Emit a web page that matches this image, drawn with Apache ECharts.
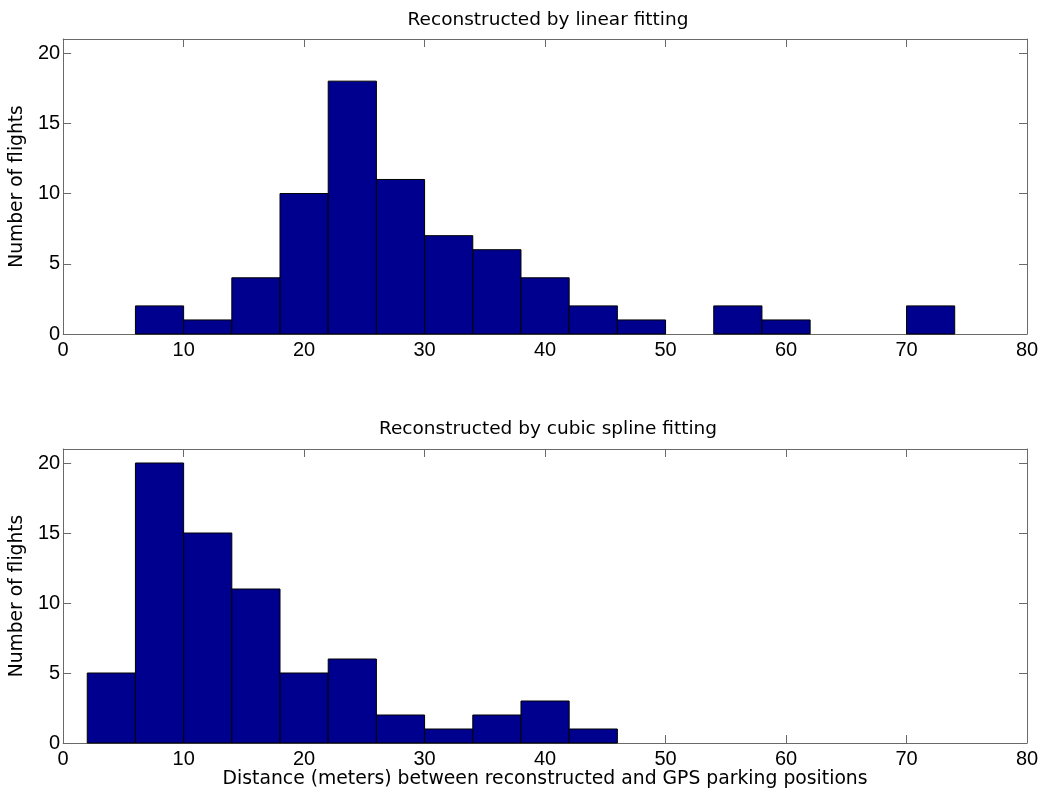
<!DOCTYPE html>
<html>
<head>
<meta charset="utf-8">
<script src="https://cdn.jsdelivr.net/npm/echarts@6/dist/echarts.min.js"></script>
<style>html,body{margin:0;padding:0;background:#fff;}#c{width:1044px;height:794px;}</style>
</head>
<body>
<div id="c"></div>
<script>
const binWidth = 4;
const topTitle = 'Reconstructed by linear fitting';
const bottomTitle = 'Reconstructed by cubic spline fitting';
const yName = 'Number of flights';
const xName = 'Distance (meters) between reconstructed and GPS parking positions';
const topBinStarts = [6, 10, 14, 18, 22, 26, 30, 34, 38, 42, 46, 54, 58, 70];
const topCounts    = [2, 1, 4, 10, 18, 11, 7, 6, 4, 2, 1, 2, 1, 2];
const bottomBinStarts = [2, 6, 10, 14, 18, 22, 26, 30, 34, 38, 42];
const bottomCounts    = [5, 20, 15, 11, 5, 6, 2, 1, 2, 3, 1];
const xTicks = [0, 10, 20, 30, 40, 50, 60, 70, 80];
const yTicks = [0, 5, 10, 15, 20];

const font = 'Liberation Sans, Arial, Helvetica, sans-serif';
const wideFont = 'DejaVu Sans, Verdana, sans-serif';
const axisColor = '#6a6a6a';

function toData(starts, counts) {
  return starts.map((s, i) => [s, s + binWidth, counts[i]]);
}

function renderItem(params, api) {
  const p0 = api.coord([api.value(0), 0]);
  const p1 = api.coord([api.value(1), api.value(2)]);
  return {
    type: 'rect',
    shape: { x: p0[0], y: p1[1], width: p1[0] - p0[0], height: p0[1] - p1[1] },
    style: { fill: '#00008f', stroke: '#000000', lineWidth: 1 }
  };
}

const grids = [
  { left: 62, top: 39, width: 965, height: 295 },
  { left: 62, top: 449, width: 965, height: 294 }
];

function xAxes(gi, withName) {
  return [
    {
      type: 'value', gridIndex: gi, position: 'bottom', min: 0, max: 80, interval: 10,
      axisLine: { show: true, onZero: false, lineStyle: { color: axisColor, width: 1 } },
      axisTick: { show: true, inside: true, length: 8, lineStyle: { color: axisColor } , customValues: xTicks},
      axisLabel: { show: true, color: '#000', fontSize: 20, fontFamily: font, margin: 6, customValues: xTicks },
      splitLine: { show: false },
      name: withName ? xName : '', nameLocation: 'middle', nameGap: 27,
      nameTextStyle: { color: '#000', fontSize: 18.8, fontFamily: wideFont }
    },
    {
      type: 'value', gridIndex: gi, position: 'top', min: 0, max: 80, interval: 10,
      axisLine: { show: true, onZero: false, lineStyle: { color: axisColor, width: 1 } },
      axisTick: { show: true, inside: true, length: 8, lineStyle: { color: axisColor }, customValues: xTicks },
      axisLabel: { show: false },
      splitLine: { show: false }
    }
  ];
}

function yAxes(gi) {
  return [
    {
      type: 'value', gridIndex: gi, position: 'left', min: 0, max: 21, interval: 5,
      axisLine: { show: true, onZero: false, lineStyle: { color: axisColor, width: 1 } },
      axisTick: { show: true, inside: true, length: 8, lineStyle: { color: axisColor }, customValues: yTicks },
      axisLabel: { show: true, color: '#000', fontSize: 20, fontFamily: font, margin: 3, customValues: yTicks },
      splitLine: { show: false },
      name: yName, nameLocation: 'middle', nameGap: 32, nameRotate: 90,
      nameTextStyle: { color: '#000', fontSize: 18.7, fontFamily: wideFont }
    },
    {
      type: 'value', gridIndex: gi, position: 'right', min: 0, max: 21, interval: 5,
      axisLine: { show: true, onZero: false, lineStyle: { color: axisColor, width: 1 } },
      axisTick: { show: true, inside: true, length: 8, lineStyle: { color: axisColor }, customValues: yTicks },
      axisLabel: { show: false },
      splitLine: { show: false }
    }
  ];
}

const chart = echarts.init(document.getElementById('c'), null, { renderer: 'canvas' });
chart.setOption({
  backgroundColor: '#ffffff',
  animation: false,
  title: [
    { text: topTitle, left: 543, top: 6, textAlign: 'center',
      textStyle: { color: '#000', fontSize: 18.5, fontWeight: 'normal', fontFamily: wideFont } },
    { text: bottomTitle, left: 543, top: 415, textAlign: 'center',
      textStyle: { color: '#000', fontSize: 18.5, fontWeight: 'normal', fontFamily: wideFont } }
  ],
  grid: grids,
  xAxis: [...xAxes(0, false), ...xAxes(1, true)],
  yAxis: [...yAxes(0), ...yAxes(1)],
  series: [
    { type: 'custom', xAxisIndex: 0, yAxisIndex: 0, renderItem, data: toData(topBinStarts, topCounts),
      encode: { x: [0, 1], y: 2 } },
    { type: 'custom', xAxisIndex: 2, yAxisIndex: 2, renderItem, data: toData(bottomBinStarts, bottomCounts),
      encode: { x: [0, 1], y: 2 } }
  ]
});
</script>
</body>
</html>
